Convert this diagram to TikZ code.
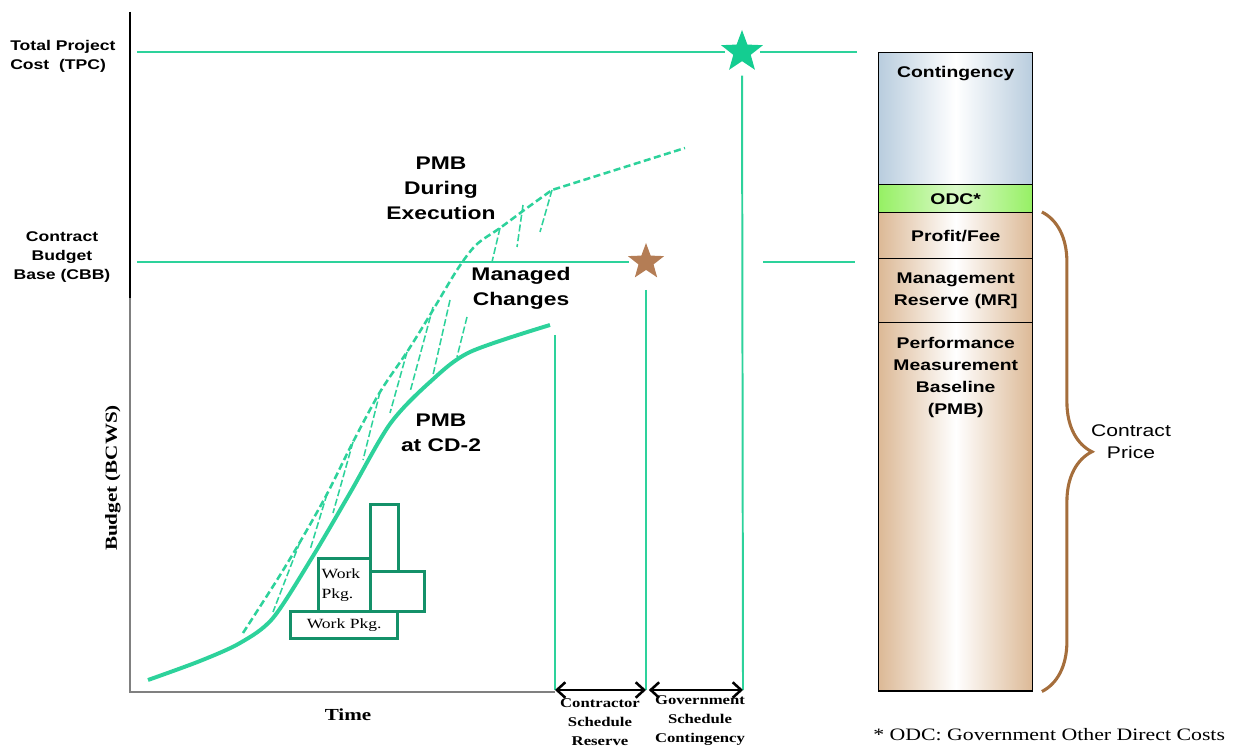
\documentclass[tikz,border=0pt]{standalone}
\usepackage{fontspec}
\setmainfont{Liberation Sans}[FakeStretch=1.25]
\newfontfamily\tnr{Liberation Serif}[FakeStretch=1.25]
\usetikzlibrary{positioning,shapes.geometric,arrows.meta,decorations.pathreplacing}

\definecolor{refgreen}{RGB}{45,210,155}
\definecolor{wpgreen}{RGB}{20,145,105}
\definecolor{stargreen}{RGB}{20,205,145}
\definecolor{starbrown}{RGB}{180,125,85}
\definecolor{bracebrown}{RGB}{165,110,60}
\definecolor{contblue}{RGB}{185,205,222}
\definecolor{odcgreen}{RGB}{150,240,100}
\definecolor{peach}{RGB}{220,185,150}

\begin{document}
\begin{tikzpicture}[
    x=0.025cm, y=-0.025cm,
    every node/.style={align=center, inner sep=0pt},
    refline/.style={draw=refgreen, line width=1.4pt},
    pmbline/.style={refgreen, line width=2.8pt, line join=round},
    execline/.style={refgreen, line width=1.8pt, dash pattern=on 5pt off 2.5pt},
    hatchline/.style={refgreen, line width=1.1pt, dash pattern=on 5pt off 2pt},
    wpbox/.style={draw=wpgreen, line width=2.3pt, anchor=north west,
                  font=\tnr\fontsize{10}{14}\selectfont},
    goal/.style={star, star points=5, star point ratio=2.4, inner sep=0pt},
    barsec/.style={draw, line width=1pt, anchor=north west, minimum width=3.85cm},
    headlbl/.style={font=\fontsize{13}{17.8}\selectfont\bfseries},
    sidelbl/.style={font=\fontsize{10}{13.5}\selectfont\bfseries},
    barlbl/.style={font=\fontsize{11}{15.5}\selectfont\bfseries},
    axislbl/.style={font=\tnr\fontsize{12}{14}\selectfont\bfseries},
    spanlbl/.style={font=\tnr\fontsize{9.5}{13.5}\selectfont\bfseries},
    spanarrow/.style={{Straight Barb[length=6pt,width=11pt]}-{Straight Barb[length=6pt,width=11pt]}, line width=1.8pt}
]
\useasboundingbox (0,0) rectangle (1234,753);

% axes
\coordinate (ytop) at (130,12);
\coordinate (orig) at (130,692);
\coordinate (xend) at (555,692);
\draw[gray, line width=1.2pt] (ytop) -- (orig) -- (xend);
\draw[black, line width=1.4pt] (ytop) -- (130,298);
\node[axislbl, rotate=90] (bcws) at (113,478) {Budget (BCWS)};
\node[axislbl] (time) at (348,715) {Time};

% level labels and stars
\node[sidelbl, anchor=west, align=left] (tpclbl) at (10,56) {Total Project\\Cost~~(TPC)};
\node[sidelbl] (cbblbl) at (62,257) {Contract\\Budget\\Base (CBB)};
\node[goal, fill=stargreen, minimum size=1.1cm] (tpcstar) at (742,52) {};
\node[goal, fill=starbrown, minimum size=0.95cm] (cbbstar) at (646,262) {};

\coordinate (tpcl) at (137,52);
\coordinate (tpce) at (857,52);
\coordinate (cbbl) at (137,262);
\coordinate (cbbr) at (763,262);
\coordinate (cbbe) at (855,262);
\coordinate (cdend) at (555,335);
\coordinate (csa) at (555,690);
\coordinate (csb) at (646,690);
\coordinate (gsb) at (743,690);

\draw[refline, shorten >=3pt] (tpcl) -- (tpcstar);
\draw[refline, shorten <=4pt] (tpcstar) -- (tpce);
\draw[refline, shorten >=4pt] (cbbl) -- (cbbstar);
\draw[refline] (cbbr) -- (cbbe);
\draw[refline, shorten <=10pt] (tpcstar) -- (gsb);
\draw[refline, shorten <=14pt] (cbbstar) -- (csb);
\draw[refline] (cdend) -- (csa);

% schedule reserves
\draw[spanarrow] (csa) -- (csb);
\draw[spanarrow] ([xshift=2pt]csb) -- (gsb);
\node[spanlbl] (csr) at (600,722) {Contractor\\Schedule\\Reserve};
\node[spanlbl] (gsc) at (700,721) {Government\\Schedule\\Contingency};

% baselines
\draw[execline] plot[smooth, tension=0.5] coordinates {(243,633) (277,580) (300,542) (327,494)
    (353,442) (380,392) (407,352) (430,315) (457,270) (476,245) (500,228) (527,208) (552,190)} -- (685,148);
\foreach \xa/\ya/\xb/\yb in {300/542/273/612, 327/494/310/550, 353/442/333/513, 380/392/363/460,
    407/352/390/413, 433/307/410/392, 450/300/433/375, 467/317/457/357,
    500/228/492/262, 523/205/517/247, 552/190/540/232}
  \draw[hatchline] (\xa,\ya) -- (\xb,\yb);
\draw[pmbline] plot[smooth, tension=0.5] coordinates {(148,680) (200,661) (240,643) (273,618)
    (313,556) (350,493) (390,424) (430,382) (470,352) (550,325)};

\node[headlbl] (pmbexec) at (441,188) {PMB\\During\\Execution};
\node[headlbl] (managed) at (521,288) {Managed\\Changes};
\node[headlbl] (pmbcd) at (441,433) {PMB\\at CD-2};

% work packages
\node[wpbox, minimum width=2.675cm, minimum height=0.675cm] (wpbase) at (289,610) {Work Pkg.};
\node[wpbox, minimum width=1.3cm, minimum height=1.325cm, text width=1.15cm, align=left] (wpleft) at (317,557) {Work\\Pkg.};
\node[wpbox, minimum width=0.7cm, minimum height=1.675cm] (wptall) at (369,503) {};
\node[wpbox, minimum width=1.35cm, minimum height=1cm] (wpside) at (369,570) {};

% contract price bar
\node[barsec, minimum height=3.3cm, left color=contblue, right color=contblue, middle color=white] (cont) at (878,52) {};
\node[barlbl, below=10pt of cont.north] (conttxt) {Contingency};
\node[barsec, barlbl, minimum height=0.7cm, left color=odcgreen, right color=odcgreen, middle color=odcgreen!35] (odc) at (878,184) {ODC*};
\node[barsec, barlbl, minimum height=1.15cm, left color=peach, right color=peach, middle color=white] (fee) at (878,212) {Profit/Fee};
\node[barsec, barlbl, minimum height=1.6cm, left color=peach, right color=peach, middle color=white] (mr) at (878,258) {Management\\Reserve (MR]};
\node[barsec, minimum height=9.2cm, left color=peach, right color=peach, middle color=white] (pmb) at (878,322) {};
\node[barlbl, below=11pt of pmb.north] (pmbtxt) {Performance\\Measurement\\Baseline\\(PMB)};

\draw[bracebrown, line width=2.2pt, decorate, decoration={brace, amplitude=1.25cm}]
    ([xshift=6pt]fee.north east) -- ([xshift=6pt]pmb.south east);
\node[font=\fontsize{12}{15.5}\selectfont] (price) at (1131,442) {Contract\\Price};

\node[anchor=west, font=\tnr\fontsize{12.4}{14}\selectfont] (odcnote) at (873,735) {* ODC: Government Other Direct Costs};

\end{tikzpicture}
\end{document}
